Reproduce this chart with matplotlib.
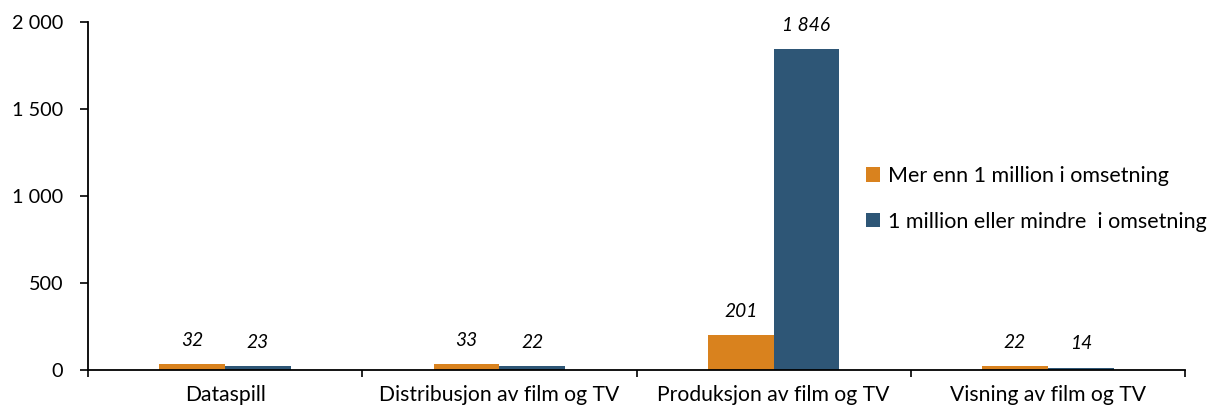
import matplotlib
matplotlib.use("Agg")
import matplotlib.pyplot as plt
import numpy as np
from matplotlib.ticker import FuncFormatter

categories = ["Dataspill", "Distribusjon av film og TV", "Produksjon av film og TV", "Visning av film og TV"]
series_names = ["Mer enn 1 million i omsetning", "1 million eller mindre  i omsetning"]
over_1m = [32, 33, 201, 22]
under_1m = [23, 22, 1846, 14]
colors = ["#D9821E", "#2E5676"]

plt.rcParams['font.family'] = ['Lato', 'DejaVu Sans']

fig = plt.figure(figsize=(12.31, 4.12), dpi=100)
ax = fig.add_axes([88/1231, 1-370/412, (1185-88)/1231, (370-22)/412])

x = np.arange(len(categories))
w = 0.24
b1 = ax.bar(x - w/2, over_1m, w, color=colors[0], label=series_names[0])
b2 = ax.bar(x + w/2, under_1m, w, color=colors[1], label=series_names[1])

def fmt(v):
    return f"{int(v):,}".replace(",", " ")

for bars, vals in ((b1, over_1m), (b2, under_1m)):
    for rect, v in zip(bars, vals):
        ax.annotate(fmt(v), (rect.get_x() + rect.get_width()/2, rect.get_height()),
                    xytext=(0, 11), textcoords="offset points", ha="center", va="bottom",
                    fontsize=13.8, style="italic")

ax.set_xlim(-0.5, len(categories) - 0.5)
ax.set_ylim(0, 2000)
ax.set_yticks([0, 500, 1000, 1500, 2000])
ax.yaxis.set_major_formatter(FuncFormatter(lambda v, p: fmt(v)))
ax.set_xticks(np.arange(len(categories) + 1) - 0.5, minor=False)
ax.set_xticklabels([])
ax.set_xticks(x, minor=True)
ax.set_xticklabels(categories, minor=True)
ax.tick_params(axis='x', which='minor', length=0, pad=11, labelsize=15.2)
ax.tick_params(axis='x', which='major', length=5, direction='out', width=1.2)
ax.tick_params(axis='y', length=6, direction='out', labelsize=14.3, width=1.2, pad=12)
for s in ("top", "right"):
    ax.spines[s].set_visible(False)
for s in ("left", "bottom"):
    ax.spines[s].set_linewidth(1.3)

fig.legend(handles=[b1, b2], labels=series_names, loc="upper left",
           bbox_to_anchor=(866/1231, 1-166/412), frameon=False, fontsize=15.5,
           borderpad=0, borderaxespad=0,
           handlelength=0.65, handleheight=0.65, handletextpad=0.35, labelspacing=1.2)

fig.savefig("out.png", dpi=100)
